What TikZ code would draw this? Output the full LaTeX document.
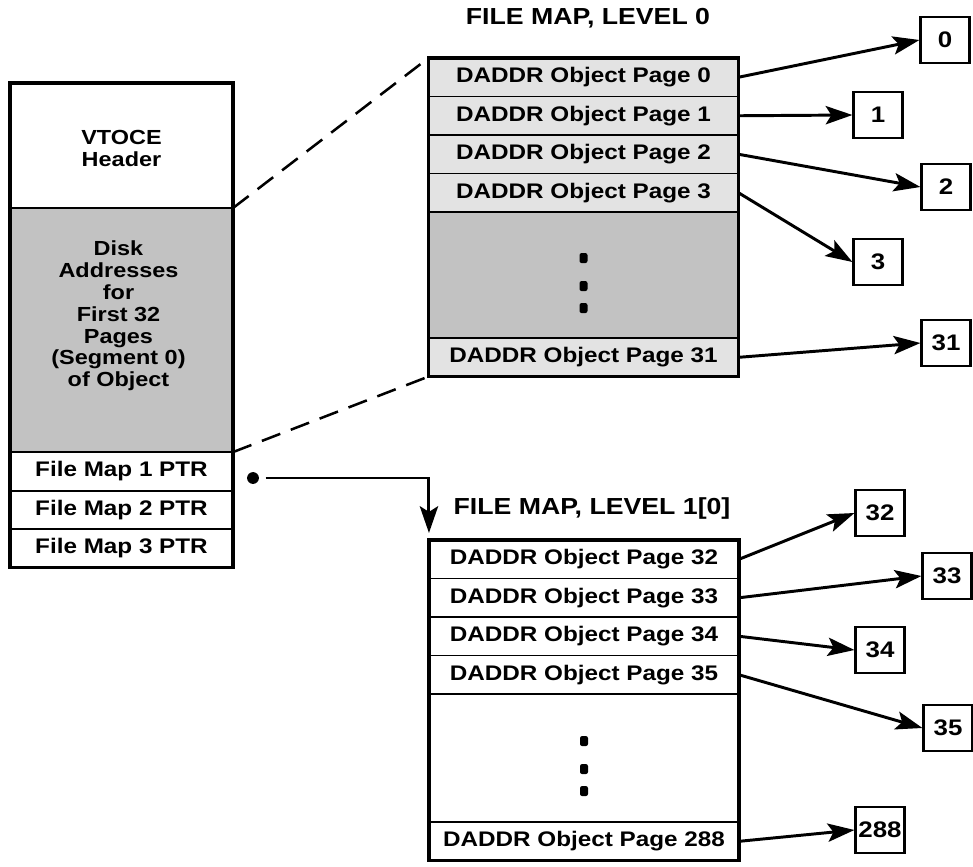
\documentclass[tikz,border=0pt]{standalone}
\usepackage{fontspec}
\setmainfont{Liberation Sans}[FakeStretch=1.15]
\usetikzlibrary{
    arrows.meta,
    positioning,
    calc
}
\tikzset{
  mcell/.style    = {draw, line width=1.3pt, outer sep=0pt, inner sep=0pt,
                     minimum width=7.75cm, minimum height=0.9625cm,
                     align=center, font=\bfseries\fontsize{15}{12}\selectfont},
  vcell/.style    = {mcell, minimum width=5.575cm},
  stack/.style    = {align=center, font=\bfseries\fontsize{14.5}{15.5}\selectfont},
  pgbox/.style    = {draw, line width=1.5pt, minimum width=1.225cm,
                     minimum height=1.15cm, inner sep=0pt,
                     font=\bfseries\fontsize{16}{16}\selectfont},
  maptitle/.style = {font=\bfseries\fontsize{16.5}{16.5}\selectfont},
  bigframe/.style = {line width=2.6pt},
  arr/.style      = {-{Stealth[length=19pt,width=13pt,inset=4pt]}, line width=2.1pt},
  lnk/.style      = {dash pattern=on 14pt off 8pt, line width=1.8pt}
}
\definecolor{dotGray}{gray}{0.76}
\definecolor{lightDot}{gray}{0.89}

\begin{document}
\begin{tikzpicture}[x=0.025cm, y=-0.025cm]
  \useasboundingbox (0,0) rectangle (973,867);

  % VTOCE
  \node[vcell, minimum height=3.125cm] (hdr) at (121.5,145.5) {};
  \node[stack] (hdrlbl) at ($(hdr.center)+(0,3)$) {VTOCE\\Header};
  \node[vcell, minimum height=6.1cm, fill=dotGray, below=0pt of hdr] (disk) {};
  \node[stack] (disklbl) at ($(disk.center)+(-3,-14)$)
    {Disk\\Addresses\\for\\First 32\\Pages\\(Segment 0)\\of Object};
  \node[vcell, below=0pt of disk] (fm1) {File Map 1 PTR};
  \node[vcell, below=0pt of fm1] (fm2) {File Map 2 PTR};
  \node[vcell, below=0pt of fm2] (fm3) {File Map 3 PTR};
  \draw[bigframe] (hdr.north west) rectangle (fm3.south east);

  % level 0 map
  \node[maptitle] (t0) at (588,18) {FILE MAP, LEVEL 0};
  \node[mcell, fill=lightDot] (l0a) at (583.5,77.25) {DADDR Object Page 0};
  \node[mcell, fill=lightDot, below=0pt of l0a] (l0b) {DADDR Object Page 1};
  \node[mcell, fill=lightDot, below=0pt of l0b] (l0c) {DADDR Object Page 2};
  \node[mcell, fill=lightDot, below=0pt of l0c] (l0d) {DADDR Object Page 3};
  \node[mcell, fill=dotGray, minimum height=3.15cm, below=0pt of l0d] (l0dots) {};
  \node[mcell, fill=lightDot, below=0pt of l0dots] (l0z) {DADDR Object Page 31};
  \draw[bigframe] (l0a.north west) rectangle (l0z.south east);
  \foreach \dy in {-17,11,33}
    \fill[rounded corners=1.5pt] ($(l0dots.center)+(-4,\dy-5)$) rectangle ++(8,10);

  \draw[lnk] (disk.north east) -- (l0a.north west);
  \draw[lnk] (disk.south east) -- (l0z.south west);

  \foreach \n/\x/\y in {0/945/40, 1/878/115, 2/946/187, 3/878/262, 31/946/343}
    \node[pgbox] (p\n) at (\x,\y) {\n};
  \foreach \r/\n in {l0a/0, l0b/1, l0c/2, l0d/3, l0z/31}
    \draw[arr] (\r.east) -- (p\n.west);

  % level 1 map
  \node[maptitle] (t1) at (592,508) {FILE MAP, LEVEL 1[0]};
  \node[mcell] (l1a) at (584,559.25) {DADDR Object Page 32};
  \node[mcell, below=0pt of l1a] (l1b) {DADDR Object Page 33};
  \node[mcell, below=0pt of l1b] (l1c) {DADDR Object Page 34};
  \node[mcell, below=0pt of l1c] (l1d) {DADDR Object Page 35};
  \node[mcell, minimum height=3.2cm, below=0pt of l1d] (l1dots) {};
  \node[mcell, below=0pt of l1dots] (l1z) {DADDR Object Page 288};
  \draw[bigframe] (l1a.north west) rectangle (l1z.south east);
  \foreach \dy in {-17,11,33}
    \fill[rounded corners=1.5pt] ($(l1dots.center)+(-4,\dy-5)$) rectangle ++(8,10);

  \foreach \n/\x/\y in {32/880/513, 33/947/576, 34/880/650, 35/948/728, 288/880/830}
    \node[pgbox] (p\n) at (\x,\y) {\n};
  \foreach \r/\n in {l1a/32, l1b/33, l1c/34, l1d/35, l1z/288}
    \draw[arr] (\r.east) -- (p\n.west);

  % pointer to level 1
  \coordinate (ptr) at (253,478);
  \fill (ptr) circle (4.2pt);
  \draw[arr] ([xshift=9pt]ptr) -| ([yshift=5pt]l1a.north west);
\end{tikzpicture}
\end{document}
